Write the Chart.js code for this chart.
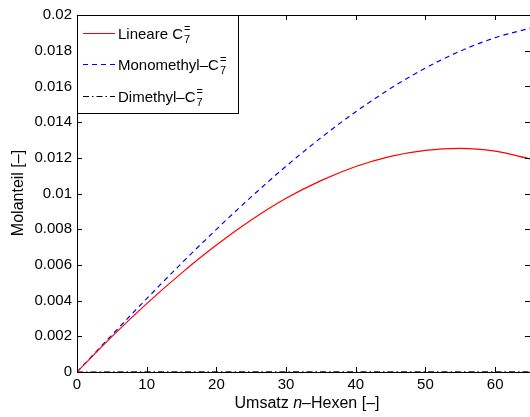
<!DOCTYPE html>
<html>
<head>
<meta charset="utf-8">
<script src="https://cdn.jsdelivr.net/npm/chart.js@4.4.1/dist/chart.umd.min.js"></script>
<style>
html,body{margin:0;padding:0;background:#fff;}
#wrap{width:530px;height:417px;position:relative;}
</style>
</head>
<body>
<div id="wrap"><canvas id="c" width="530" height="417"></canvas></div>
<script>
// ---- data ----
const umsatz = [0, 5, 10, 15, 20, 25, 30, 35, 40, 45, 50, 55, 60, 65];
const lineareC7 = [0, 0.00198, 0.00383, 0.00554, 0.00711, 0.00851, 0.00973, 0.01072, 0.01151, 0.01208, 0.01242, 0.01253, 0.01237, 0.01194];
const monomethylC7 = [0, 0.00207, 0.00411, 0.00609, 0.00799, 0.00981, 0.01153, 0.01312, 0.01458, 0.01589, 0.01703, 0.01798, 0.01873, 0.01926];
const dimethylC7 = [0, 0.000005, 0.00001, 0.00001, 0.00001, 0.00001, 0.00001, 0.00001, 0.00001, 0.00001, 0.00001, 0.00001, 0.00001, 0.00001];
const seriesNames = ['Lineare C', 'Monomethyl\u2013C', 'Dimethyl\u2013C'];
const xTicks = [0, 10, 20, 30, 40, 50, 60];
const yTicks = [0, 0.002, 0.004, 0.006, 0.008, 0.01, 0.012, 0.014, 0.016, 0.018, 0.02];
const yTickLabels = ['0', '0.002', '0.004', '0.006', '0.008', '0.01', '0.012', '0.014', '0.016', '0.018', '0.02'];
const xTitleParts = ['Umsatz ', 'n', '\u2013Hexen [\u2013]'];
const yTitle = 'Molanteil [\u2013]';

const FONT = '"Liberation Sans", Arial, Helvetica, sans-serif';
const pts = arr => umsatz.map((x, i) => ({x: x, y: arr[i]}));

const styles = [
  {color: '#ff0000', dash: []},
  {color: '#0000ff', dash: [5, 4]},
  {color: '#000000', dash: [6, 3, 1.5, 3]}
];

const boxPlugin = {
  id: 'boxPlugin',
  afterDatasetsDraw(chart) {
    const ctx = chart.ctx, a = chart.chartArea;
    const xs = chart.scales.x, ys = chart.scales.y;
    ctx.save();
    ctx.strokeStyle = '#000';
    ctx.lineWidth = 1;
    ctx.setLineDash([]);
    ctx.beginPath();
    ctx.rect(Math.round(a.left) + 0.5, Math.round(a.top) + 0.5, Math.round(a.right - a.left) + 2, Math.round(a.bottom - a.top));
    ctx.stroke();
    const tl = 5;
    ctx.beginPath();
    xTicks.forEach(v => {
      const px = Math.round(xs.getPixelForValue(v)) + 0.5;
      ctx.moveTo(px, a.bottom); ctx.lineTo(px, a.bottom - tl);
      ctx.moveTo(px, a.top); ctx.lineTo(px, a.top + tl);
    });
    yTicks.forEach(v => {
      const py = Math.round(ys.getPixelForValue(v)) + 0.5;
      ctx.moveTo(a.left, py); ctx.lineTo(a.left + tl, py);
      ctx.moveTo(a.right, py); ctx.lineTo(a.right - tl, py);
    });
    ctx.stroke();

    // legend
    const lx = Math.round(a.left) + 0.5, ly = Math.round(a.top) + 0.5, lw = 161, lh = 98;
    ctx.fillStyle = '#fff';
    ctx.fillRect(lx, ly, lw, lh);
    ctx.strokeRect(lx, ly, lw, lh);
    const rows = [33, 64, 96];
    seriesNames.forEach((name, i) => {
      const y = rows[i] + 0.5;
      ctx.strokeStyle = styles[i].color;
      ctx.setLineDash(styles[i].dash);
      ctx.beginPath();
      ctx.moveTo(83, y); ctx.lineTo(115, y);
      ctx.stroke();
      ctx.setLineDash([]);
      ctx.fillStyle = '#000';
      ctx.font = '15px ' + FONT;
      ctx.textBaseline = 'alphabetic';
      ctx.textAlign = 'left';
      ctx.fillText(name, 118, rows[i] + 6);
      const w = ctx.measureText(name).width;
      ctx.font = '11px ' + FONT;
      ctx.fillText('7', 118 + w + 1, rows[i] + 10);
      ctx.fillText('=', 118 + w + 1, rows[i] - 1);
    });

    // axis titles
    ctx.fillStyle = '#000';
    ctx.textBaseline = 'alphabetic';
    const fonts = ['16px ' + FONT, 'italic 16px ' + FONT, '16px ' + FONT];
    let total = 0;
    const widths = xTitleParts.map((p, i) => { ctx.font = fonts[i]; const w = ctx.measureText(p).width; total += w; return w; });
    let x = 307 - total / 2;
    xTitleParts.forEach((p, i) => { ctx.font = fonts[i]; ctx.textAlign = 'left'; ctx.fillText(p, x, 408); x += widths[i]; });
    ctx.font = '16px ' + FONT;
    ctx.translate(23, 193);
    ctx.rotate(-Math.PI / 2);
    ctx.textAlign = 'center';
    ctx.fillText(yTitle, 0, 0);
    ctx.restore();
  }
};

new Chart(document.getElementById('c'), {
  type: 'line',
  data: {
    datasets: [
      {label: seriesNames[0], data: pts(lineareC7), borderColor: styles[0].color, borderDash: styles[0].dash, borderWidth: 1.2, pointRadius: 0, cubicInterpolationMode: 'monotone', fill: false},
      {label: seriesNames[1], data: pts(monomethylC7), borderColor: styles[1].color, borderDash: styles[1].dash, borderWidth: 1.2, pointRadius: 0, cubicInterpolationMode: 'monotone', fill: false},
      {label: seriesNames[2], data: pts(dimethylC7), borderColor: styles[2].color, borderDash: styles[2].dash, borderWidth: 1, pointRadius: 0, cubicInterpolationMode: 'monotone', fill: false}
    ]
  },
  options: {
    responsive: false,
    animation: false,
    layout: {padding: {top: 15, right: 0, left: 0, bottom: 0}},
    plugins: {legend: {display: false}, tooltip: {enabled: false}},
    scales: {
      x: {
        type: 'linear', min: 0, max: 65,
        grid: {display: false, drawTicks: false},
        border: {display: false},
        afterBuildTicks: s => { s.ticks = xTicks.map(v => ({value: v})); },
        afterFit: s => { s.height = 45; },
        ticks: {padding: 4, color: '#000', font: {family: FONT, size: 15}, maxRotation: 0, callback: v => String(v)}
      },
      y: {
        type: 'linear', min: 0, max: 0.02,
        grid: {display: false, drawTicks: false},
        border: {display: false},
        afterBuildTicks: s => { s.ticks = yTicks.map(v => ({value: v})); },
        afterFit: s => { s.width = 77; },
        ticks: {padding: 5, color: '#000', font: {family: FONT, size: 15}, callback: (v) => { const i = yTicks.findIndex(t => Math.abs(t - v) < 1e-9); return i >= 0 ? yTickLabels[i] : ''; }}
      }
    }
  },
  plugins: [boxPlugin]
});
</script>
</body>
</html>
